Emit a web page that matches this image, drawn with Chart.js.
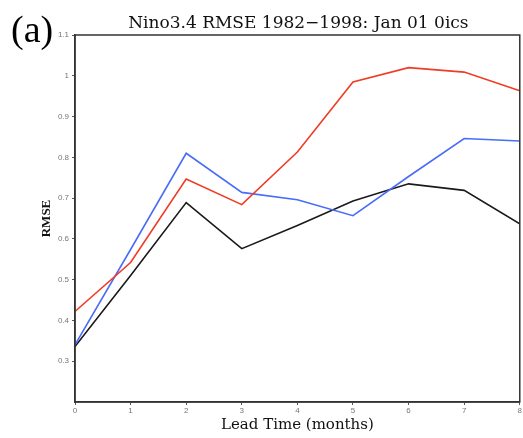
<!DOCTYPE html>
<html>
<head>
<meta charset="utf-8">
<script src="https://cdn.jsdelivr.net/npm/chart.js@4/dist/chart.umd.min.js"></script>
<style>
  html, body { margin: 0; padding: 0; background: #fff; }
  #wrap { width: 523px; height: 438px; }
</style>
</head>
<body>
<div id="wrap"><canvas id="rmse-chart" width="523" height="438"></canvas></div>
<script>
// Lead time (months) and RMSE per model
const leadMonths = [0, 1, 2, 3, 4, 5, 6, 7, 8];
const redRmse   = [0.422, 0.542, 0.747, 0.684, 0.813, 0.985, 1.020, 1.009, 0.963];
const blueRmse  = [0.340, 0.574, 0.810, 0.714, 0.696, 0.657, 0.753, 0.846, 0.840];
const blackRmse = [0.336, 0.510, 0.689, 0.576, 0.633, 0.693, 0.735, 0.719, 0.637];
const yTicks = [0.3, 0.4, 0.5, 0.6, 0.7, 0.8, 0.9, 1, 1.1];
const chartTitle = 'Nino3.4 RMSE 1982\u22121998: Jan 01 0ics';
const panelLabel = '(a)';

const toPoints = (vals) => leadMonths.map((m, i) => ({ x: m, y: vals[i] }));

// Frame box, title over the plot area and "(a)" panel label
const framePlugin = {
  id: 'frame',
  afterDraw(chart) {
    const { ctx, chartArea: a } = chart;
    ctx.save();
    ctx.strokeStyle = '#333';
    ctx.lineWidth = 1.5;
    ctx.strokeRect(a.left, a.top, a.right - a.left, a.bottom - a.top);

    ctx.fillStyle = '#111';
    ctx.textBaseline = 'alphabetic';
    ctx.textAlign = 'center';
    ctx.font = '17px "DejaVu Serif", serif';
    ctx.fillText(chartTitle, (a.left + a.right) / 2 + 1, 28);

    ctx.fillStyle = '#000';
    ctx.textAlign = 'left';
    ctx.font = '38px "Liberation Serif", serif';
    ctx.fillText(panelLabel, 11, 42);
    ctx.restore();
  }
};

const ctx = document.getElementById('rmse-chart').getContext('2d');
new Chart(ctx, {
  type: 'line',
  data: {
    datasets: [
      { label: 'red', data: toPoints(redRmse), borderColor: '#f03c24', borderWidth: 1.6, pointRadius: 0, tension: 0 },
      { label: 'blue', data: toPoints(blueRmse), borderColor: '#4a6cf7', borderWidth: 1.6, pointRadius: 0, tension: 0 },
      { label: 'black', data: toPoints(blackRmse), borderColor: '#1a1a1a', borderWidth: 1.6, pointRadius: 0, tension: 0 },
    ],
  },
  options: {
    responsive: false,
    animation: false,
    layout: { padding: { top: 35, right: 2, left: 0, bottom: 0 } },
    plugins: {
      legend: { display: false },
      tooltip: { enabled: false },
      title: { display: false },
    },
    scales: {
      x: {
        type: 'linear',
        min: 0,
        max: 8,
        afterFit(scale) { scale.height = 36; },
        ticks: { stepSize: 1, color: '#777', font: { size: 8 }, padding: 1 },
        grid: { drawOnChartArea: false, drawTicks: true, tickLength: 3, color: '#555' },
        border: { color: '#333', width: 1.5 },
        title: {
          display: true,
          text: 'Lead Time (months)',
          color: '#111',
          font: { family: '"DejaVu Serif", serif', size: 15 },
          padding: { top: 0, bottom: 4 },
        },
      },
      y: {
        min: 0.2,
        max: 1.1,
        afterFit(scale) { scale.width = 75; },
        afterBuildTicks(scale) { scale.ticks = yTicks.map((v) => ({ value: v })); },
        ticks: {
          color: '#777',
          font: { size: 8 },
          padding: 3,
          callback: (v) => String(Math.round(v * 10) / 10),
        },
        grid: { drawOnChartArea: false, drawTicks: true, tickLength: 3, color: '#555' },
        border: { color: '#333', width: 1.5 },
        title: {
          display: true,
          text: 'RMSE',
          color: '#111',
          font: { family: '"Liberation Serif", serif', size: 13, weight: 'bold' },
          padding: { top: 39, bottom: 0 },
        },
      },
    },
  },
  plugins: [framePlugin],
});
</script>
</body>
</html>
